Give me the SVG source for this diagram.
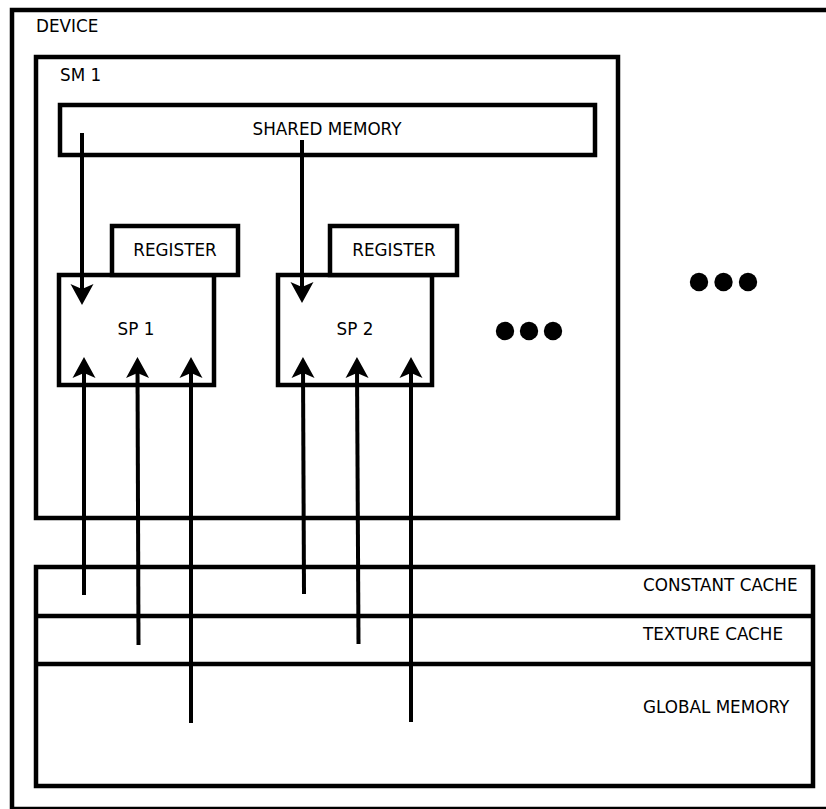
<svg xmlns="http://www.w3.org/2000/svg" width="826" height="809" viewBox="0 0 826 809">
<style>
.box{fill:none;stroke:#000;stroke-width:4.5}
.fbox{fill:#fff;stroke:#000;stroke-width:4.5}
.ln{fill:none;stroke:#000;stroke-width:4}
text{font-family:"DejaVu Sans","Liberation Sans",sans-serif;font-size:16.8px;fill:#000}
.c{text-anchor:middle}
</style>
<defs>
<marker id="ah" markerUnits="userSpaceOnUse" markerWidth="26" markerHeight="26" viewBox="-2 -13 24 26" refX="10" refY="0" orient="auto">
<path d="M20,0 L-1,-11.5 L4,0 L-1,11.5 Z" fill="#000"/>
</marker>
</defs>
<rect width="826" height="809" fill="#fff"/>
<g id="device">
<rect class="box" x="12" y="10" width="830" height="799"/>
<text x="36" y="32">DEVICE</text>
<circle cx="699" cy="282" r="9.2"/>
<circle cx="723.5" cy="282" r="9.2"/>
<circle cx="748" cy="282" r="9.2"/>
</g>
<g id="sm1">
<rect class="box" x="36" y="57" width="582" height="461"/>
<text x="60" y="81">SM 1</text>
<circle cx="505" cy="331" r="9.2"/>
<circle cx="529" cy="331" r="9.2"/>
<circle cx="553" cy="331" r="9.2"/>
</g>
<g id="shared-memory">
<rect class="box" x="60" y="105" width="535" height="50"/>
<text class="c" x="327" y="135">SHARED MEMORY</text>
</g>
<g id="sp1">
<rect class="fbox" x="59" y="275" width="155" height="110"/>
<text class="c" x="136" y="335">SP 1</text>
</g>
<g id="register1">
<rect class="fbox" x="112" y="226" width="126" height="49"/>
<text class="c" x="175" y="256">REGISTER</text>
</g>
<g id="sp2">
<rect class="fbox" x="278" y="275" width="154" height="110"/>
<text class="c" x="355" y="335">SP 2</text>
</g>
<g id="register2">
<rect class="fbox" x="330" y="226" width="127" height="49"/>
<text class="c" x="394" y="256">REGISTER</text>
</g>
<g id="caches">
<rect class="box" x="36" y="567" width="777" height="219"/>
<line class="box" x1="36" y1="616" x2="813" y2="616"/>
<line class="box" x1="36" y1="664" x2="813" y2="664"/>
<text x="643" y="591">CONSTANT CACHE</text>
<text x="643" y="640">TEXTURE CACHE</text>
<text x="643" y="713">GLOBAL MEMORY</text>
</g>
<g id="connectors">
<line class="ln" x1="82" y1="133" x2="82" y2="295" marker-end="url(#ah)"/>
<line class="ln" x1="302" y1="140" x2="302" y2="293" marker-end="url(#ah)"/>
<line class="ln" x1="84" y1="595" x2="84" y2="367" marker-end="url(#ah)"/>
<line class="ln" x1="138.5" y1="645" x2="137.5" y2="367" marker-end="url(#ah)"/>
<line class="ln" x1="191" y1="723" x2="191" y2="367" marker-end="url(#ah)"/>
<line class="ln" x1="304" y1="594" x2="303" y2="367" marker-end="url(#ah)"/>
<line class="ln" x1="358.5" y1="644" x2="357" y2="367" marker-end="url(#ah)"/>
<line class="ln" x1="411" y1="722" x2="411" y2="367" marker-end="url(#ah)"/>
</g>
</svg>
